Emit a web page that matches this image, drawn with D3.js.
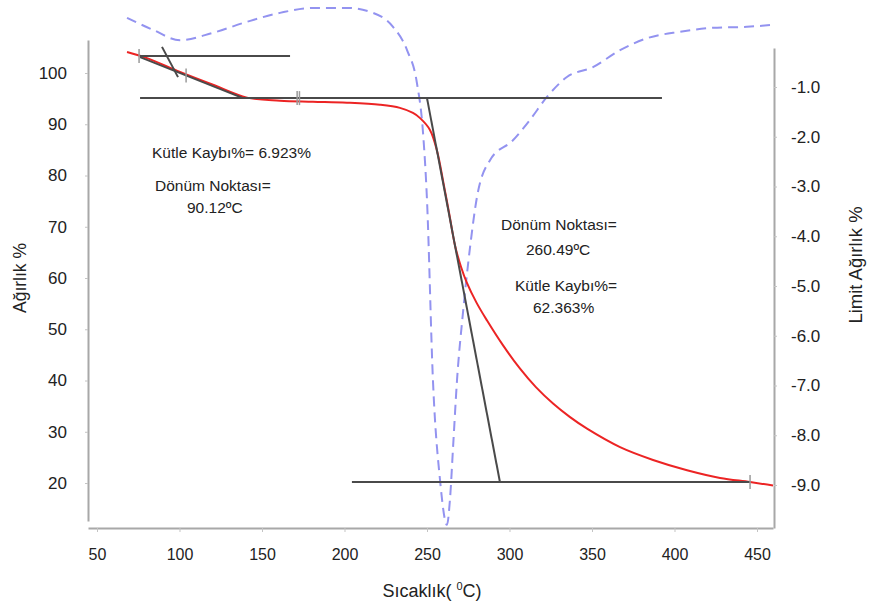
<!DOCTYPE html>
<html>
<head>
<meta charset="utf-8">
<script src="https://cdn.jsdelivr.net/npm/d3@7"></script>
<style>
  body { margin: 0; background: #fff; }
  text { font-family: "Liberation Sans", Arial, sans-serif; fill: #222; }
</style>
</head>
<body>
<script>
// Weight curve (left axis)
const weightTemp = [68.2, 80.3, 100.3, 120.3, 140.9, 160.9, 180.9, 201.5, 221.5, 233.6, 241.5, 245.8, 251.8, 256.1, 260.0, 263.5, 267.0, 270.5, 274.0, 280.0, 286.4, 296.0, 306.4, 316.0, 326.4, 336.5, 347.0, 367.0, 387.0, 407.6, 427.6, 445.8, 459.7];
const weight = [104.1, 102.9, 100.2, 97.7, 95.2, 94.6, 94.4, 94.2, 93.8, 93.2, 92.2, 91.2, 88.9, 84.8, 78.5, 72.5, 66.3, 62.3, 59.2, 55.2, 51.7, 46.9, 42.3, 38.7, 35.5, 32.9, 30.6, 27.0, 24.5, 22.5, 21.0, 20.2, 19.5];

// Derivative curve (right axis)
const derivTemp = [68.2, 83.9, 100.3, 120.3, 140.9, 160.9, 180.9, 201.5, 217.3, 229.4, 237.9, 243.9, 247.6, 250.0, 253.6, 257.9, 262.1, 263.9, 265.8, 268.2, 271.8, 276.1, 280.3, 288.2, 302.1, 312.4, 322.7, 334.8, 350.6, 367.0, 383.3, 403.3, 423.3, 443.9, 459.7];
const deriv = [0.39, 0.15, -0.06, 0.09, 0.31, 0.49, 0.59, 0.59, 0.49, 0.21, -0.26, -0.92, -1.92, -3.27, -6.89, -8.90, -9.80, -9.30, -8.24, -6.89, -5.54, -4.22, -3.21, -2.47, -2.07, -1.66, -1.20, -0.80, -0.60, -0.26, -0.02, 0.11, 0.19, 0.21, 0.25];

// Construction lines [t1, w1, t2, w2] and small markers [t, w]
const guideLines = [
  [76.1, 103.3, 167.0, 103.3],
  [76.1, 95.1, 392.4, 95.1],
  [76.1, 103.1, 138.5, 95.1],
  [89.4, 105.1, 99.1, 99.2],
  [250.0, 95.1, 294.2, 20.2],
  [204.5, 20.2, 445.8, 20.2]
];
const markers = [[75.5, 103.3], [104.0, 99.5], [171.3, 95.1], [172.7, 95.1], [445.8, 20.2]];

const xTicks = [50, 100, 150, 200, 250, 300, 350, 400, 450];
const leftTicks = [20, 30, 40, 50, 60, 70, 80, 90, 100];
const rightTicks = [-1, -2, -3, -4, -5, -6, -7, -8, -9];

const width = 872, height = 608;

const svg = d3.select("body").append("svg")
  .attr("width", width)
  .attr("height", height);

const x = d3.scaleLinear().domain([44.55, 459.7]).range([88, 773]);
const yL = d3.scaleLinear().domain([12.59, 106.44]).range([521, 40]);
const yR = d3.scaleLinear().domain([-9.864, -0.216]).range([528, 48]);

// axes
const styleAxis = (g, size) => {
  g.select(".domain").attr("stroke", "#a8a8a8").attr("stroke-width", 2);
  g.selectAll(".tick line").attr("stroke", "#c4c4c4");
  g.selectAll(".tick text")
    .style("font-family", "'Liberation Sans', Arial, sans-serif")
    .style("font-size", size + "px")
    .attr("fill", "#222");
};

svg.append("g")
  .attr("transform", "translate(0,528)")
  .call(d3.axisBottom(x).tickValues(xTicks).tickSize(4).tickPadding(17).tickSizeOuter(0))
  .call(g => styleAxis(g, 16));

svg.append("g")
  .attr("transform", "translate(88,0)")
  .call(d3.axisLeft(yL).tickValues(leftTicks).tickSize(3).tickPadding(18).tickSizeOuter(0))
  .call(g => styleAxis(g, 17));

svg.append("g")
  .attr("transform", "translate(774,0)")
  .call(d3.axisRight(yR).tickValues(rightTicks).tickSize(3).tickPadding(14).tickSizeOuter(0)
    .tickFormat(d => d.toFixed(1)))
  .call(g => styleAxis(g, 17));

// axis titles
svg.append("text")
  .attr("transform", "translate(26,278) rotate(-90)")
  .attr("text-anchor", "middle")
  .style("font-size", "17.5px")
  .text("Ağırlık %");

svg.append("text")
  .attr("transform", "translate(862,265) rotate(-90)")
  .attr("text-anchor", "middle")
  .style("font-size", "18.5px")
  .text("Limit Ağırlık %");

const xt = svg.append("text")
  .attr("x", 432).attr("y", 597)
  .attr("text-anchor", "middle")
  .style("font-size", "18px");
xt.append("tspan").text("Sıcaklık( ");
xt.append("tspan").attr("dy", -7).style("font-size", "11px").text("0");
xt.append("tspan").attr("dy", 7).text("C)");

// derivative dashed curve
const lineR = d3.line()
  .x((d, i) => x(derivTemp[i]))
  .y(d => yR(d))
  .curve(d3.curveMonotoneX);

svg.append("path")
  .datum(deriv)
  .attr("d", lineR)
  .attr("fill", "none")
  .attr("stroke", "#9393f0")
  .attr("stroke-width", 2)
  .attr("stroke-dasharray", "10,6");

// weight curve
const lineL = d3.line()
  .x((d, i) => x(weightTemp[i]))
  .y(d => yL(d))
  .curve(d3.curveCatmullRom.alpha(0.5));

svg.append("path")
  .datum(weight)
  .attr("d", lineL)
  .attr("fill", "none")
  .attr("stroke", "#ec2424")
  .attr("stroke-width", 2);

// construction lines
svg.append("g").selectAll("line")
  .data(guideLines)
  .join("line")
  .attr("x1", d => x(d[0]))
  .attr("y1", d => yL(d[1]))
  .attr("x2", d => x(d[2]))
  .attr("y2", d => yL(d[3]))
  .attr("stroke", "#4a4a4a")
  .attr("stroke-width", 2);

svg.append("g").selectAll("line")
  .data(markers)
  .join("line")
  .attr("x1", d => x(d[0]))
  .attr("x2", d => x(d[0]))
  .attr("y1", d => yL(d[1]) - 7)
  .attr("y2", d => yL(d[1]) + 7)
  .attr("stroke", "#9a9a9a")
  .attr("stroke-width", 1.5);

// annotations
const notes = [
  { text: "Kütle Kaybı%= 6.923%", x: 152, y: 158 },
  { text: "Dönüm Noktası=", x: 155, y: 191 },
  { text: "90.12ºC", x: 187, y: 213 },
  { text: "Dönüm Noktası=", x: 501, y: 230 },
  { text: "260.49ºC", x: 526, y: 255 },
  { text: "Kütle Kaybı%=", x: 515, y: 291 },
  { text: "62.363%", x: 533, y: 313 }
];

svg.append("g").selectAll("text")
  .data(notes)
  .join("text")
  .attr("x", d => d.x)
  .attr("y", d => d.y)
  .style("font-size", "15.5px")
  .attr("fill", "#2a2a2a")
  .text(d => d.text);
</script>
</body>
</html>
